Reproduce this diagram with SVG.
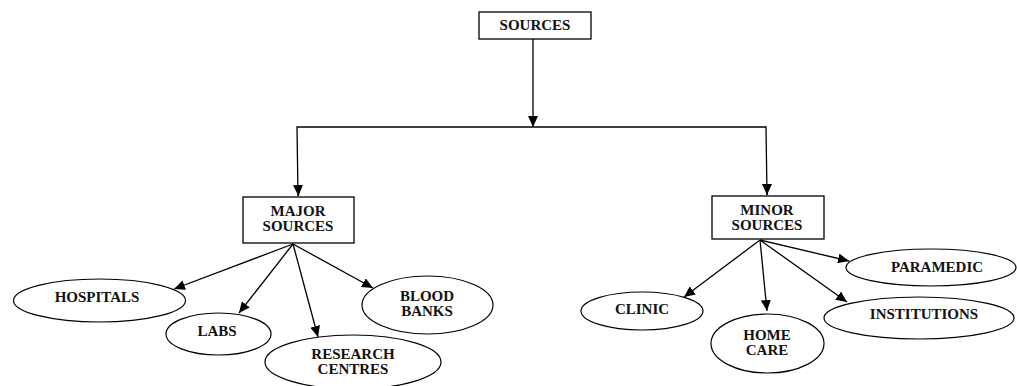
<svg xmlns="http://www.w3.org/2000/svg" width="1017" height="386" viewBox="0 0 1017 386">
<style>
.box{fill:#fff;stroke:#000;stroke-width:1.3}
.ell{fill:#fff;stroke:#000;stroke-width:1.2}
.t{font-family:'Liberation Serif','Times New Roman',serif;font-weight:700;font-size:15px;fill:#111;text-anchor:middle}
.c{fill:none;stroke:#000;stroke-width:1.3}
</style>
<defs>
<marker id="ah" markerUnits="userSpaceOnUse" markerWidth="12" markerHeight="10" refX="11" refY="5" orient="auto">
<path d="M0,0 L11,5 L0,10 Z" fill="#000"/>
</marker>
</defs>
<g id="connectors">
<line class="c" x1="533" y1="39" x2="533" y2="127" marker-end="url(#ah)"/>
<polyline class="c" points="298,196 297,127 766,127 767,195"/>
<line class="c" x1="298" y1="186" x2="298.5" y2="196" marker-end="url(#ah)"/>
<line class="c" x1="767" y1="185" x2="767" y2="195" marker-end="url(#ah)"/>
<line class="c" x1="293" y1="244" x2="174" y2="289" marker-end="url(#ah)"/>
<line class="c" x1="293" y1="244" x2="239" y2="313" marker-end="url(#ah)"/>
<line class="c" x1="293" y1="244" x2="318" y2="337" marker-end="url(#ah)"/>
<line class="c" x1="293" y1="244" x2="373" y2="288" marker-end="url(#ah)"/>
<line class="c" x1="760" y1="240" x2="684" y2="297" marker-end="url(#ah)"/>
<line class="c" x1="760" y1="240" x2="767" y2="311" marker-end="url(#ah)"/>
<line class="c" x1="760" y1="240" x2="847" y2="302" marker-end="url(#ah)"/>
<line class="c" x1="760" y1="240" x2="849" y2="261" marker-end="url(#ah)"/>
</g>
<g id="sources">
<rect class="box" x="479" y="12" width="112" height="27"/>
<text class="t" x="535" y="30">SOURCES</text>
</g>
<g id="major">
<rect class="box" x="243" y="197" width="111" height="46"/>
<text class="t" x="298" y="216">MAJOR</text>
<text class="t" x="298" y="231">SOURCES</text>
</g>
<g id="minor">
<rect class="box" x="712" y="196" width="112" height="43"/>
<text class="t" x="767" y="215">MINOR</text>
<text class="t" x="767" y="230">SOURCES</text>
</g>
<g id="hospitals">
<ellipse class="ell" cx="99.5" cy="300.5" rx="86" ry="21.5"/>
<text class="t" x="97" y="302">HOSPITALS</text>
</g>
<g id="labs">
<ellipse class="ell" cx="218.5" cy="334" rx="52.5" ry="21"/>
<text class="t" x="217" y="336">LABS</text>
</g>
<g id="research">
<ellipse class="ell" cx="353" cy="362" rx="88" ry="27"/>
<text class="t" x="353" y="359">RESEARCH</text>
<text class="t" x="353" y="374">CENTRES</text>
</g>
<g id="blood">
<ellipse class="ell" cx="427.5" cy="305" rx="65.5" ry="29"/>
<text class="t" x="427" y="301">BLOOD</text>
<text class="t" x="427" y="316">BANKS</text>
</g>
<g id="clinic">
<ellipse class="ell" cx="642" cy="311" rx="61" ry="19"/>
<text class="t" x="642" y="314">CLINIC</text>
</g>
<g id="homecare">
<ellipse class="ell" cx="767.5" cy="343.5" rx="56.5" ry="29.5"/>
<text class="t" x="767" y="340">HOME</text>
<text class="t" x="767" y="355">CARE</text>
</g>
<g id="institutions">
<ellipse class="ell" cx="919" cy="318" rx="95" ry="21"/>
<text class="t" x="924" y="319">INSTITUTIONS</text>
</g>
<g id="paramedic">
<ellipse class="ell" cx="931" cy="267.5" rx="85" ry="18.5"/>
<text class="t" x="937" y="272">PARAMEDIC</text>
</g>
</svg>
